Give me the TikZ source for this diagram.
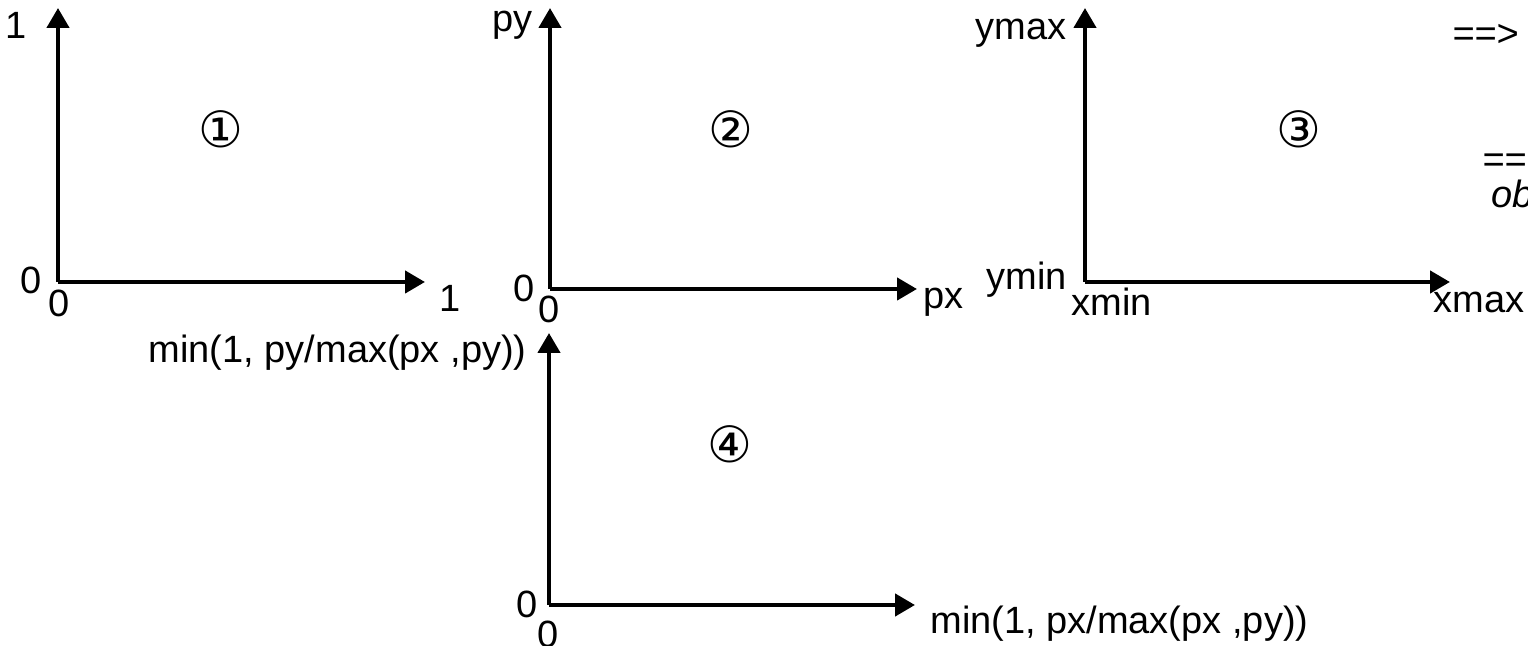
\documentclass[tikz,border=0pt]{standalone}
\usepackage{fontspec}
\setmainfont{Liberation Sans}
\newfontfamily\circfont{DejaVu Sans}
\usetikzlibrary{arrows.meta}
\begin{document}
\begin{tikzpicture}[x=0.5pt,y=-0.5pt,
  ax/.style={line width=2.2pt,-{Triangle[length=10pt,width=11pt]}},
  lbl/.style={inner sep=0pt,font=\fontsize{19}{22}\selectfont},
  circ/.style={inner sep=0pt,font=\circfont\fontsize{25}{28}\selectfont},
  note/.style={inner sep=0pt,anchor=west,font=\fontsize{19}{22}\selectfont\itshape}]
\useasboundingbox (0,0) rectangle (1528,646);
\clip (0,0) rectangle (1528,646);
% axis 1
\coordinate (o1) at (58,282);
\coordinate (y1) at (58,8);
\coordinate (x1) at (425,282);
\draw[ax] (o1) -- (y1);
\draw[ax] (o1) -- (x1);
\node[lbl] (t1a) at (16,25) {1};
\node[lbl] (t1b) at (31,280) {0};
\node[lbl] (t1c) at (59,303) {0};
\node[lbl] (t1d) at (450,298) {1};
\node[circ] (c1) at (221,129) {①};
% axis 2
\coordinate (o2) at (550,289);
\coordinate (y2) at (550,8);
\coordinate (x2) at (917,289);
\draw[ax] (o2) -- (y2);
\draw[ax] (o2) -- (x2);
\node[lbl,anchor=east] (t2a) at (533,25) {py};
\node[lbl] (t2b) at (524,288) {0};
\node[lbl] (t2c) at (549,309) {0};
\node[lbl,anchor=west] (t2d) at (923,302) {px};
\node[circ] (c2) at (731,129) {②};
% axis 3
\coordinate (o3) at (1085,282);
\coordinate (y3) at (1085,8);
\coordinate (x3) at (1450,282);
\draw[ax] (o3) -- (y3);
\draw[ax] (o3) -- (x3);
\node[lbl,anchor=east] (t3a) at (1067,33) {ymax};
\node[lbl,anchor=east] (t3b) at (1067,280) {ymin};
\node[lbl,anchor=west] (t3c) at (1071,302) {xmin};
\node[lbl,anchor=west] (t3d) at (1433,302) {xmax};
\node[circ] (c3) at (1299,129) {③};
% axis 4
\coordinate (o4) at (549,605);
\coordinate (y4) at (549,333);
\coordinate (x4) at (915,605);
\draw[ax] (o4) -- (y4);
\draw[ax] (o4) -- (x4);
\node[lbl,anchor=east] (t4a) at (527,353) {min(1, py/max(px ,py))};
\node[lbl] (t4b) at (527,604) {0};
\node[lbl] (t4c) at (548,634) {0};
\node[lbl,anchor=west] (t4d) at (930,624) {min(1, px/max(px ,py))};
\node[circ] (c4) at (730,444) {④};
% notes at right, cut by the edge
\node[note] (n1) at (1452,35) {==>};
\node[note] (n2) at (1482,163) {==};
\node[note] (n3) at (1491,194) {ob};
\end{tikzpicture}
\end{document}
